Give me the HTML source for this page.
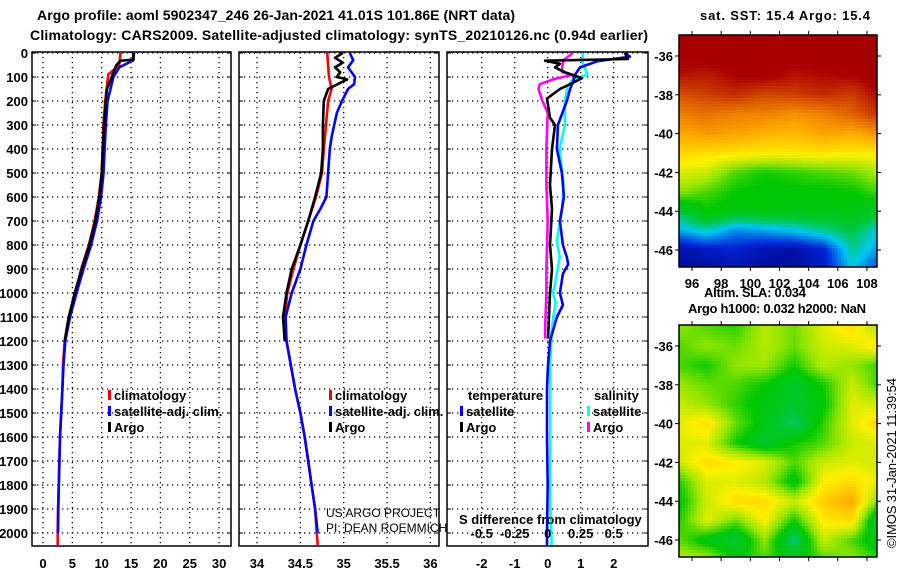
<!DOCTYPE html>
<html><head><meta charset="utf-8"><style>
body{margin:0;background:#fff;}
svg{display:block;font-family:"Liberation Sans",sans-serif;}
.b{font-weight:bold;font-size:13px;fill:#000;}
</style></head><body>
<svg id="c" width="900" height="580" viewBox="0 0 900 580" xmlns="http://www.w3.org/2000/svg">
<text class="b" x="37" y="20" style="font-size:14px" textLength="478">Argo profile: aoml 5902347_246 26-Jan-2021 41.01S 101.86E (NRT data)</text>
<text class="b" x="30" y="40" style="font-size:14px" textLength="618">Climatology: CARS2009. Satellite-adjusted climatology: synTS_20210126.nc (0.94d earlier)</text>
<text class="b" x="700" y="20" textLength="170">sat. SST: 15.4 Argo: 15.4</text>
<text class="b" x="704" y="297" textLength="102">Altim. SLA: 0.034</text>
<text class="b" x="688" y="313" textLength="178">Argo h1000: 0.032 h2000: NaN</text>
<text x="0" y="0" transform="translate(896,548) rotate(-90)" style="font-size:13px" textLength="170">©IMOS 31-Jan-2021 11:39:54</text>
<g id="g"></g>
</svg>
<script>
// ---- data ----
const depthTicks=[0,100,200,300,400,500,600,700,800,900,1000,1100,1200,1300,1400,1500,1600,1700,1800,1900,2000];
const tTicks=[0,5,10,15,20,25,30];
const sTicks=[34,34.5,35,35.5,36];
const dTicks=[-2,-1,0,1,2];
const sdTickLabels=["-0.5","-0.25","0","0.25","0.5"];
const sdTickVals=[-0.5,-0.25,0,0.25,0.5];

const climTdep=[0,50,90,200,300,500,600,700,800,900,1000,1100,1200,1300,1400,1500,1600,1700,1800,1900,2000,2050];
const climT=[13.2,13.0,11.1,10.6,10.3,10.0,9.5,8.8,7.8,6.5,5.5,4.4,3.7,3.4,3.3,3.1,2.9,2.8,2.7,2.55,2.5,2.5];
const satTdep=[0,30,60,100,200,300,500,600,700,800,900,1000,1100,1200,1300,1400,1500,1600,1700,1800,1900,2000];
const satT=[15.5,15.4,13.0,12.0,11.0,10.7,10.3,9.9,9.2,8.2,6.9,5.7,4.6,3.8,3.5,3.3,3.1,2.9,2.8,2.7,2.6,2.55];
const argoTdep=[0,28,32,50,150,200,300,500,600,700,800,900,1000,1100,1200];
const argoT=[15.4,15.4,13.2,12.5,10.9,10.7,10.4,10.0,9.6,8.9,7.9,6.6,5.4,4.4,3.7];

const climSdep=[0,100,150,200,280,400,500,600,700,800,900,1000,1100,1200,1300,1400,1500,1600,1700,1800,1900,2000,2050];
const climS=[34.81,34.83,34.86,34.82,34.80,34.77,34.75,34.68,34.59,34.5,34.42,34.35,34.32,34.34,34.39,34.44,34.5,34.55,34.59,34.63,34.67,34.69,34.7];
const satSdep=[0,30,60,100,130,150,200,250,350,400,600,650,700,800,900,1000,1100,1200,1300,1400,1500,1600,1700,1800,1900,2000];
const satS=[35.07,35.11,35.05,35.13,35.12,35.05,34.98,34.92,34.86,34.84,34.8,34.73,34.65,34.57,34.5,34.4,34.33,34.34,34.39,34.44,34.5,34.55,34.59,34.63,34.67,34.7];
const argoSdep=[0,20,40,60,80,100,110,130,150,200,300,400,500,600,700,800,900,1000,1100,1200];
const argoS=[34.99,34.9,34.99,34.9,34.96,34.92,35.04,34.93,34.82,34.77,34.76,34.76,34.74,34.67,34.59,34.5,34.4,34.34,34.3,34.32];

const dTsatDep=[0,15,35,60,90,120,150,200,300,400,500,600,700,800,850,880,920,1000,1050,1100,1200,1300,1400,1600,1800,2000,2050];
const dTsat=[2.34,2.49,1.49,0.98,0.83,0.77,0.68,0.58,0.31,0.28,0.43,0.49,0.37,0.46,0.58,0.62,0.46,0.37,0.46,0.28,0.07,0.01,-0.02,-0.02,0,-0.02,-0.02];
const dTargoDep=[0,25,32,45,60,80,105,130,150,190,270,300,400,550,650,800,900,1000,1100,1190];
const dTargo=[2.34,2.43,-0.08,0.37,0.22,0.52,1.04,0.68,0.37,-0.02,0.07,0.22,0.13,0.07,0.13,0.07,0.13,0.07,0.04,0.01];
const dSargoDep=[0,30,60,80,90,110,130,150,200,250,400,550,700,900,1000,1150,1190];
const dSargo=[0.19,0.12,0.11,0.11,0.19,0.04,-0.06,-0.07,-0.04,0.0,-0.01,-0.01,0,-0.01,-0.01,-0.02,-0.02];
const dSsatDep=[0,30,60,90,110,140,200,300,400,550,650,780,850,950,1000,1040,1150,1300,1600,1880,2050];
const dSsat=[0.27,0.26,0.28,0.30,0.19,0.15,0.13,0.13,0.09,0.12,0.11,0.07,0.09,0.06,0.04,0.06,0.03,0.02,0.02,0.02,0.03];

const lonTicks=[96,98,100,102,104,106,108];
const latTicks=[-36,-38,-40,-42,-44,-46];
const gridLons=[95,97,99,101,103,105,107,109];
const gridLats=[-35,-36,-37,-38,-39,-40,-41,-42,-43,-44,-45,-46,-47];
const sstGrid=[
[.97,.97,.97,.97,.97,.97,.97,.97],
[.96,.97,.97,.96,.97,.97,.97,.97],
[.93,.92,.95,.96,.93,.94,.95,.97],
[.86,.88,.9,.87,.88,.9,.88,.95],
[.8,.82,.8,.8,.78,.8,.84,.9],
[.75,.77,.76,.74,.73,.76,.75,.78],
[.69,.68,.67,.66,.66,.67,.66,.66],
[.62,.6,.5,.46,.48,.5,.52,.58],
[.55,.5,.45,.44,.44,.44,.45,.5],
[.35,.45,.42,.43,.42,.42,.42,.38],
[.22,.28,.2,.22,.25,.3,.35,.25],
[.05,.08,.1,.06,.05,.1,.3,.2],
[.03,.04,.06,.04,.04,.08,.25,.12]];
const slaGrid=[
[.55,.5,.48,.58,.52,.62,.68,.55],
[.5,.55,.52,.58,.52,.6,.62,.68],
[.5,.46,.55,.56,.46,.58,.55,.48],
[.56,.52,.5,.45,.38,.46,.6,.48],
[.6,.55,.48,.42,.38,.44,.62,.6],
[.62,.68,.52,.42,.32,.48,.62,.7],
[.62,.62,.46,.38,.46,.5,.6,.62],
[.6,.68,.66,.62,.5,.6,.62,.6],
[.46,.62,.62,.58,.42,.65,.68,.62],
[.42,.6,.68,.68,.6,.7,.75,.5],
[.46,.62,.52,.65,.46,.66,.68,.28],
[.52,.42,.36,.55,.3,.6,.5,.38],
[.58,.58,.45,.5,.42,.5,.55,.48]];

// ---- helpers ----
const NS="http://www.w3.org/2000/svg";
const G=document.getElementById('g');
function mk(tag,attrs,parent){const e=document.createElementNS(NS,tag);for(const k in attrs)e.setAttribute(k,attrs[k]);(parent||G).appendChild(e);return e;}
const yD=d=>53+d*0.24;
const panels=[
 {x0:32,x1:231,sx:v=>43+v*5.87,ticks:tTicks,name:'temperature'},
 {x0:239,x1:439,sx:v=>257+(v-34)*86.7,ticks:sTicks,name:'salinity'},
 {x0:447,x1:648,sx:v=>547.7+v*33,ticks:dTicks,name:'difference'}];
const sdx=v=>547.7+v*132;
const YB=546, YT=52;

panels.forEach((p,pi)=>{
 const g=mk('g',{});
 
 
 depthTicks.forEach(d=>{
  const l=mk('line',{x1:p.x0,x2:p.x1,y1:yD(d),y2:yD(d),stroke:'#000','stroke-width':1.3,'stroke-dasharray':'1.3 3.7'},g);
  
  
  mk('line',{x1:p.x0,x2:p.x0+4,y1:yD(d),y2:yD(d),stroke:'#000'},g);
  mk('line',{x1:p.x1-4,x2:p.x1,y1:yD(d),y2:yD(d),stroke:'#000'},g);
 });
 p.ticks.forEach(t=>{
  const x=p.sx(t);
  const l=mk('line',{x1:x,x2:x,y1:YT,y2:YB,stroke:'#000','stroke-width':1.3,'stroke-dasharray':'1.3 3.7'},g);
  
  
  const tx=mk('text',{x:x,y:568,'text-anchor':'middle',class:'b'},g);
  tx.textContent=String(t);
  
  
 });
 const r=mk('rect',{x:p.x0,y:YT,width:p.x1-p.x0,height:YB-YT,fill:'none',stroke:'#000','stroke-width':1.5},g);
 
 
});
depthTicks.forEach(d=>{
 const t=mk('text',{x:28,y:yD(d)+5,'text-anchor':'end',class:'b'});
 t.textContent=String(d);
 
 
});
function series(vals,deps,sx,color,name,w){
 const pts=vals.map((v,i)=>sx(v).toFixed(1)+','+yD(deps[i]).toFixed(1)).join(' ');
 const pl=mk('polyline',{points:pts,fill:'none',stroke:color,'stroke-width':w||2.6,'stroke-linejoin':'round'});
 
 
}
const P=panels;
series(climT,climTdep,P[0].sx,'#f00','temp-climatology-line');
series(satT,satTdep,P[0].sx,'#00f','temp-satellite-line');
series(argoT,argoTdep,P[0].sx,'#000','temp-argo-line');
series(climS,climSdep,P[1].sx,'#f00','sal-climatology-line');
series(satS,satSdep,P[1].sx,'#00f','sal-satellite-line');
series(argoS,argoSdep,P[1].sx,'#000','sal-argo-line');
series(dSargo,dSargoDep,sdx,'#f0f','sdiff-argo-line');
series(dSsat,dSsatDep,sdx,'#0ff','sdiff-satellite-line');
series(dTsat,dTsatDep,P[2].sx,'#00f','tdiff-satellite-line');
series(dTargo,dTargoDep,P[2].sx,'#000','tdiff-argo-line');

function leg(x,y,color,label,name){
 const r=mk('rect',{x:x,y:y-10,width:3,height:10,fill:color});
 
 
 const t=mk('text',{x:x+6,y:y,class:'b'});
 t.textContent=label;
 
 
}
[[108,'#f00','climatology'],[108,'#00f','satellite-adj. clim.'],[108,'#000','Argo']].forEach((a,i)=>leg(a[0],400+i*16,a[1],a[2],'temp-legend-'+i));
[[329,'#f00','climatology'],[329,'#00f','satellite-adj. clim.'],[329,'#000','Argo']].forEach((a,i)=>leg(a[0],400+i*16,a[1],a[2],'sal-legend-'+i));
leg(460,416,'#00f','satellite','tdiff-legend-sat');
leg(460,432,'#000','Argo','tdiff-legend-argo');
leg(587,416,'#0ff','satellite','sdiff-legend-sat');
leg(587,432,'#f0f','Argo','sdiff-legend-argo');
[['temperature',468],['salinity',594]].forEach(a=>{const t=mk('text',{x:a[1],y:400,class:'b'});t.textContent=a[0];});
let t=mk('text',{x:459,y:524,class:'b'});t.textContent='S difference from climatology';


sdTickVals.forEach((v,i)=>{const e=mk('text',{x:sdx(v),y:538,'text-anchor':'middle',class:'b'});e.textContent=sdTickLabels[i];
 
 });
t=mk('text',{x:326,y:517,style:'font-size:12px'});t.textContent='US ARGO PROJECT';


t=mk('text',{x:326,y:532,style:'font-size:12px'});t.textContent='PI: DEAN ROEMMICH';



// ---- maps ----
const palStops=[0,.12,.25,.35,.45,.55,.65,.75,.85,.95,1];
const palCols=[[0,0,128],[0,40,220],[0,200,240],[0,200,60],[0,200,0],[150,230,0],[255,240,0],[255,170,0],[220,90,0],[170,0,0],[160,0,0]];
function pal(v){v=Math.max(0,Math.min(1,v));
 let i=0;while(i<palStops.length-2&&v>palStops[i+1])i++;
 const f=(v-palStops[i])/(palStops[i+1]-palStops[i]);
 const c=palCols[i].map((a,k)=>Math.round(a+(palCols[i+1][k]-a)*f));
 return `rgb(${c[0]},${c[1]},${c[2]})`;}
function interp(grid,lon,lat){
 let fi=(gridLats[0]-lat),fj=(lon-gridLons[0])/2;
 fi=Math.max(0,Math.min(gridLats.length-1.001,fi));fj=Math.max(0,Math.min(gridLons.length-1.001,fj));
 const i=Math.floor(fi),j=Math.floor(fj),a=fi-i,b=fj-j;
 return grid[i][j]*(1-a)*(1-b)+grid[i+1][j]*a*(1-b)+grid[i][j+1]*(1-a)*b+grid[i+1][j+1]*a*b;
}
function drawMap(grid,y0,y1,name,step){
 const x0=679,x1=877;
 const lonS=v=>692+(v-96)*14.58;
 const lat36=y0+21;
 const pxDeg=(y1-y0-38)/10;
 const latS=v=>lat36+(-36-v)*pxDeg;
 const mg=mk('g',{});
 
 
 for(let y=y0;y<y1;y+=step)for(let x=x0;x<x1;x+=step){
  const lon=96+(x+step/2-692)/14.58;
  const lat=-36-(y+step/2-lat36)/pxDeg;
  mk('rect',{x:x,y:y,width:step+0.3,height:Math.min(step,y1-y)+0.3,fill:pal(interp(grid,lon,lat))},mg);
 }
 mk('rect',{x:x0,y:y0,width:x1-x0,height:y1-y0,fill:'none',stroke:'#000','stroke-width':1.5},mg);
 latTicks.forEach(v=>{const y=latS(v);
  mk('line',{x1:x0-4,x2:x0,y1:y,y2:y,stroke:'#000'},mg);
  mk('line',{x1:x1,x2:x1+4,y1:y,y2:y,stroke:'#000'},mg);
  const e=mk('text',{x:x0-6,y:y+5,'text-anchor':'end',class:'b'},mg);e.textContent=String(v);
  
  });
 lonTicks.forEach(v=>{const x=lonS(v);
  mk('line',{x1:x,x2:x,y1:y1,y2:y1+4,stroke:'#000'},mg);
  mk('line',{x1:x,x2:x,y1:y0-4,y2:y0,stroke:'#000'},mg);
  if(name==='sst-map'){const e=mk('text',{x:x,y:288,'text-anchor':'middle',class:'b'},mg);e.textContent=String(v);
  
  }});
}
drawMap(sstGrid,35,267,'sst-map',3);
drawMap(slaGrid,325,557,'sla-map',3);
</script>
</body></html>
